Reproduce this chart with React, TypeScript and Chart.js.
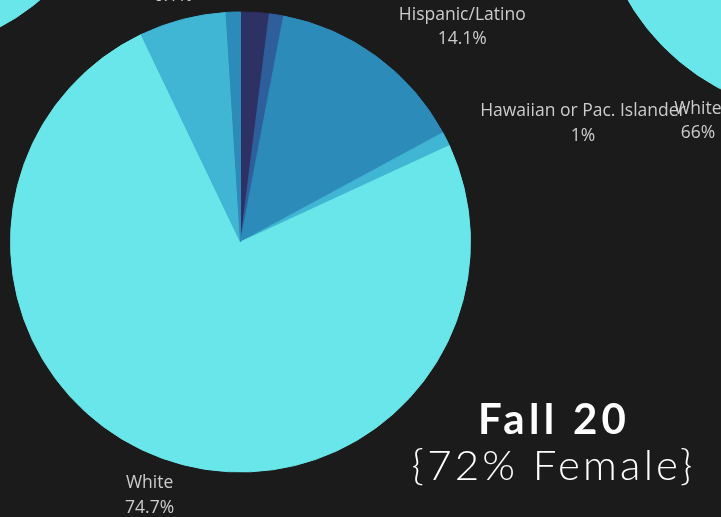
import React, { useEffect, useRef } from "react";
import { Chart, registerables } from "chart.js";

Chart.register(...registerables);

// ---- data ----
const categories = [
  "Asian",
  "Black/African American",
  "Hispanic/Latino",
  "Hawaiian or Pac. Islander",
  "White",
  "Two or More Races",
  "Native American",
];
const fall20Values = [2, 1, 14.1, 1, 74.7, 6.1, 1];
const upperLeftValues = [2.5, 1.5, 13, 0.5, 75, 6.5, 1];
const upperRightValues = [3, 2, 19, 1, 66, 7, 2];
const sliceColors = ["#2e3164", "#2e5f9b", "#2d8bb9", "#40b5d4", "#69e6e9", "#40b5d4", "#2d8bb9"];
const titleLine1 = "Fall 20";
const titleLine2 = "{72% Female}";

const BG = "#1b1b1b";
const R = 230;

const fmtPct = (v: number) => `${v}%`;

const outsideLabels = {
  id: "outsideLabels",
  afterDatasetsDraw(chart: any) {
    const ctx = chart.ctx;
    const meta = chart.getDatasetMeta(0);
    const labels = chart.data.labels as string[];
    const values = chart.data.datasets[0].data as number[];
    ctx.save();
    ctx.font = '17.5px "Open Sans"';
    ctx.fillStyle = "#cccccc";
    ctx.textBaseline = "alphabetic";
    ctx.textAlign = "center";
    meta.data.forEach((arc: any, i: number) => {
      const p = arc.getProps(["x", "y", "startAngle", "endAngle", "outerRadius"], true);
      const mid = (p.startAngle + p.endAngle) / 2;
      const r = p.outerRadius + 38;
      const ax = p.x + Math.cos(mid) * r;
      const ay = p.y + Math.sin(mid) * r;
      const c = Math.cos(mid);
      const l1 = labels[i];
      const l2 = fmtPct(values[i]);
      const w = Math.max(ctx.measureText(l1).width, ctx.measureText(l2).width);
      let cx = ax;
      if (c > 0.5) cx = ax + w / 2;
      else if (c < -0.5) cx = ax - w / 2;
      ctx.fillText(l1, cx, ay - 12.25 + 6.2);
      ctx.fillText(l2, cx, ay + 12.25 + 6.2);
    });
    ctx.restore();
  },
};

function drawSpaced(ctx: any, text: string, centerX: number, baseY: number, spacing: number) {
  ctx.letterSpacing = `${spacing}px`;
  const w = ctx.measureText(text).width - spacing;
  ctx.textAlign = "left";
  ctx.fillText(text, centerX - w / 2, baseY);
  ctx.letterSpacing = "0px";
}

const titleBlock = {
  id: "titleBlock",
  afterDraw(chart: any) {
    const ctx = chart.ctx;
    ctx.save();
    ctx.fillStyle = "#ffffff";
    ctx.textBaseline = "alphabetic";
    ctx.font = 'bold 42px "Lato"';
    drawSpaced(ctx, titleLine1, 552, 434, 4.3);
    ctx.font = '300 42px "Lato"';
    drawSpaced(ctx, titleLine2, 552, 480, 3.2);
    ctx.restore();
  },
};

function makePie(canvas: HTMLCanvasElement, values: number[], padding: any, extra: any[]) {
  return new Chart(canvas, {
    type: "pie",
    data: {
      labels: categories,
      datasets: [
        {
          data: values,
          backgroundColor: sliceColors,
          borderColor: sliceColors,
          borderWidth: 1,
        },
      ],
    },
    options: {
      responsive: false,
      animation: false,
      devicePixelRatio: 1,
      radius: R,
      layout: { padding },
      plugins: { legend: { display: false }, tooltip: { enabled: false } },
    } as any,
    plugins: [outsideLabels, ...extra],
  });
}

export default function App() {
  const mainRef = useRef<HTMLCanvasElement>(null);
  const ulRef = useRef<HTMLCanvasElement>(null);
  const urRef = useRef<HTMLCanvasElement>(null);

  useEffect(() => {
    document.body.style.margin = "0";
    document.body.style.background = BG;
    const charts: Chart[] = [];
    if (ulRef.current) charts.push(makePie(ulRef.current, upperLeftValues, 70, []));
    if (urRef.current) charts.push(makePie(urRef.current, upperRightValues, 70, []));
    if (mainRef.current)
      charts.push(
        makePie(mainRef.current, fall20Values, { left: 10.5, right: 250.5, top: 12, bottom: 45 }, [titleBlock])
      );
    return () => charts.forEach((c) => c.destroy());
  }, []);

  return (
    <div
      style={{
        position: "absolute",
        left: 0,
        top: 0,
        width: 721,
        height: 517,
        overflow: "hidden",
        background: BG,
      }}
    >
      <canvas ref={ulRef} width={600} height={600} style={{ position: "absolute", left: -408, top: -476 }} />
      <canvas ref={urRef} width={600} height={600} style={{ position: "absolute", left: 527, top: -415 }} />
      <canvas ref={mainRef} width={721} height={517} style={{ position: "absolute", left: 0, top: 0 }} />
    </div>
  );
}
